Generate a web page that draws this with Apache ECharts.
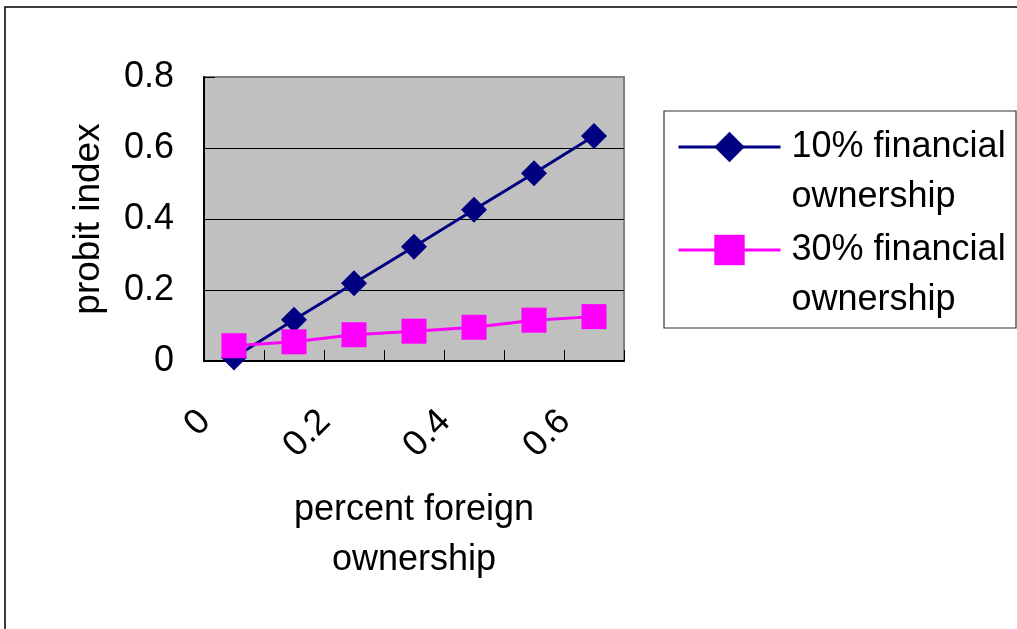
<!DOCTYPE html>
<html>
<head>
<meta charset="utf-8">
<script src="https://cdn.jsdelivr.net/npm/echarts@6/dist/echarts.min.js"></script>
<style>
html,body{margin:0;padding:0;background:#fff;}
#chart{width:1017px;height:629px;}
</style>
</head>
<body>
<div id="chart"></div>
<script>
const categories = ['0', '0.1', '0.2', '0.3', '0.4', '0.5', '0.6'];
const series10Name = '10% financial\nownership';
const series30Name = '30% financial\nownership';
const series10 = [0.01, 0.116, 0.219, 0.322, 0.426, 0.529, 0.634];
const series30 = [0.043, 0.054, 0.074, 0.084, 0.095, 0.115, 0.125];
const yMin = 0, yMax = 0.8, yStep = 0.2;

const FONT = 'Liberation Sans, Arial, sans-serif';
const chart = echarts.init(document.getElementById('chart'));
chart.setOption({
  backgroundColor: '#ffffff',
  animation: false,
  textStyle: { fontFamily: FONT },
  graphic: [
    { type: 'rect', z: -10, shape: { x: 5, y: 7, width: 1100, height: 700 },
      style: { fill: 'none', stroke: '#000', lineWidth: 1.5 } },
    { type: 'rect', z: -10, shape: { x: 664, y: 111, width: 352, height: 217 },
      style: { fill: '#fff', stroke: '#333', lineWidth: 1.2 } }
  ],
  grid: {
    left: 204, top: 77, width: 420, height: 284,
    show: true, backgroundColor: '#c0c0c0', borderColor: '#808080', borderWidth: 2
  },
  legend: {
    orient: 'vertical', left: 677, top: 72, padding: 0,
    itemWidth: 102, itemHeight: 38, itemGap: -47,
    lineStyle: { width: 3 },
    formatter: function (name) { return ' \n' + name; },
    textStyle: { fontSize: 36, lineHeight: 50, color: '#000', fontFamily: FONT, padding: [0, 0, 0, 6] },
    data: [series10Name, series30Name]
  },
  xAxis: {
    type: 'category', data: categories, boundaryGap: true,
    name: 'percent foreign\nownership', nameLocation: 'middle', nameGap: 124,
    nameTextStyle: { fontSize: 36, lineHeight: 50, color: '#000', fontFamily: FONT },
    axisLine: { lineStyle: { color: '#000', width: 2 } },
    axisTick: { show: true, inside: true, length: 11, interval: 0, lineStyle: { color: '#000', width: 1 } },
    axisLabel: { interval: 1, rotate: 45, fontSize: 36, color: '#000', margin: 26, padding: [0, 41, 0, 0], fontFamily: FONT },
    splitLine: { show: false }
  },
  yAxis: {
    type: 'value', min: yMin, max: yMax, interval: yStep,
    name: 'probit index', nameLocation: 'middle', nameGap: 97,
    nameTextStyle: { fontSize: 37, color: '#000', fontFamily: FONT },
    axisLine: { show: true, lineStyle: { color: '#000', width: 2 } },
    axisTick: { show: true, inside: true, length: 11, lineStyle: { color: '#000', width: 1 } },
    axisLabel: { fontSize: 36, color: '#000', margin: 30, fontFamily: FONT },
    splitLine: { show: true, lineStyle: { color: ['#000', '#000', '#000', '#000', '#808080'], width: 1 } }
  },
  series: [
    {
      name: series10Name, type: 'line', data: series10,
      symbol: 'diamond', symbolSize: 26,
      lineStyle: { color: '#000080', width: 3 },
      itemStyle: { color: '#000080' }
    },
    {
      name: series30Name, type: 'line', data: series30,
      symbol: 'rect', symbolSize: 25,
      lineStyle: { color: '#ff00ff', width: 3 },
      itemStyle: { color: '#ff00ff' }
    }
  ]
});
</script>
</body>
</html>
